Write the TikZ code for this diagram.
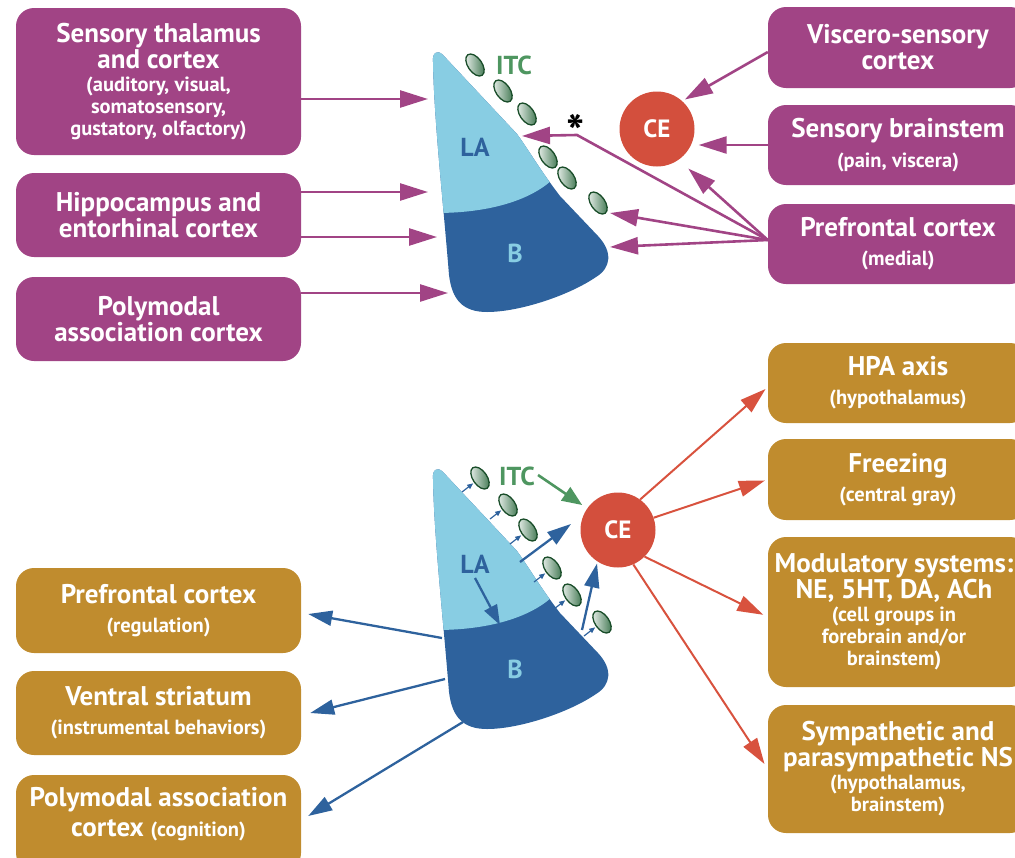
\documentclass[tikz,border=0pt]{standalone}
\usepackage{fontspec}
\setmainfont{PT Sans}
\usetikzlibrary{arrows.meta,shapes.geometric}
\definecolor{pur}{RGB}{161,68,133}
\definecolor{gold}{RGB}{192,140,46}
\definecolor{labl}{RGB}{136,205,227}
\definecolor{bdark}{RGB}{46,98,157}
\definecolor{cered}{RGB}{211,79,61}
\definecolor{rarr}{RGB}{216,82,62}
\definecolor{itcg}{RGB}{78,150,96}
\definecolor{elld}{RGB}{30,95,50}
\newcommand{\bigf}{\fontsize{27}{26}\selectfont\bfseries}
\newcommand{\smf}{\fontsize{20.5}{22}\selectfont\bfseries}
\newcommand{\bxt}[4][1pt]{\parbox{#2}{\centering\bigf #3\par\vspace{#1}\smf #4\par}}
\newcommand{\bxo}[2]{\parbox{#1}{\centering\bigf #2\par}}
\newcommand{\amyg}{(433,62) .. controls (432,53) and (437,49) .. (443,55) -- (517,134) .. controls (530,152) and (540,170) .. (560,196) -- (598,236) .. controls (613,252) and (611,268) .. (596,277) .. controls (570,295) and (520,312) .. (487,312) .. controls (463,312) and (452,300) .. (449,275) .. controls (443,200) and (434,120) .. cycle}
\newcommand{\laclip}{(380,0) -- (700,0) -- (700,180) -- (552,180) .. controls (530,200) and (490,213) .. (436,213) -- (380,213) -- cycle}
\tikzset{
  pbox/.style={rectangle, rounded corners=18pt, fill=pur, text=white, inner sep=0pt},
  gbox/.style={rectangle, rounded corners=18pt, fill=gold, text=white, inner sep=0pt},
  lbox/.style={minimum width=285pt},
  rbox/.style={minimum width=260pt},
  parrow/.style={draw=pur, line width=2.6pt, -{Triangle[length=28pt,width=17pt]}},
  barrow/.style={draw=bdark, line width=2.3pt, -{Triangle[length=24pt,width=15pt]}},
  sarrow/.style={draw=bdark, line width=1.2pt, -{Triangle[length=6pt,width=5pt]}},
  rarrow/.style={draw=rarr, line width=2pt, -{Triangle[length=26pt,width=16pt]}},
  garrow/.style={draw=itcg, line width=2.6pt, -{Triangle[length=20pt,width=16pt]}},
  itc/.style={ellipse, minimum width=14pt, minimum height=25pt, inner sep=0pt, rotate=35, draw=elld!80!black, line width=1.3pt, left color=elld!10!white, right color=elld!85!white},
  ce/.style={circle, fill=cered, minimum size=75pt, inner sep=0pt, text=white, font=\fontsize{25}{25}\selectfont\bfseries},
  lab/.style={font=\fontsize{26}{26}\selectfont\bfseries, inner sep=0pt}
}
\begin{document}
\begin{tikzpicture}[x=1pt,y=-1pt]
\useasboundingbox (0,0) rectangle (1015,857);
\clip (0,0) rectangle (1015,857);
% ---------- top boxes ----------
\node[pbox,lbox,minimum height=147pt] (s1) at (158.5,81.5) {\bxt{280pt}{Sensory thalamus\\and cortex}{(auditory, visual,\\somatosensory,\\gustatory, olfactory)}};
\node[pbox,lbox,minimum height=84pt] (s2) at (158.5,215) {\bxo{280pt}{Hippocampus and\\entorhinal cortex}};
\node[pbox,lbox,minimum height=84pt] (s3) at (158.5,319) {\bxo{280pt}{Polymodal\\association cortex}};
\node[pbox,rbox,minimum height=81pt] (r1) at (898,47.5) {\bxo{258pt}{Viscero-sensory\\cortex}};
\node[pbox,rbox,minimum height=80pt] (r2) at (898,145) {\bxt[8pt]{258pt}{Sensory brainstem}{(pain, viscera)}};
\node[pbox,rbox,minimum height=80pt] (r3) at (898,244) {\bxt[7pt]{258pt}{Prefrontal cortex}{(medial)}};
% ---------- bottom boxes ----------
\node[gbox,rbox,minimum height=80pt] (g1) at (898,383) {\bxt[7pt]{258pt}{HPA axis}{(hypothalamus)}};
\node[gbox,rbox,minimum height=81pt] (g2) at (898,479.5) {\bxt[7pt]{258pt}{Freezing}{(central gray)}};
\node[gbox,rbox,minimum height=150pt] (g3) at (898,612) {\hspace*{-8pt}\bxt{258pt}{Modulatory systems:\\NE, 5HT, DA, ACh}{(cell groups in\\forebrain and/or\\brainstem)}};
\node[gbox,rbox,minimum height=128pt] (g4) at (898,769) {\bxt{258pt}{Sympathetic and\\parasympathetic NS}{(hypothalamus,\\brainstem)}};
\node[gbox,lbox,minimum height=85pt] (l1) at (158.5,610.5) {\bxt[7pt]{280pt}{Prefrontal cortex}{(regulation)}};
\node[gbox,lbox,minimum height=84pt] (l2) at (158.5,713) {\bxt[7pt]{280pt}{Ventral striatum}{(instrumental behaviors)}};
\node[gbox,lbox,minimum height=96pt] (l3) at (158.5,823) {\parbox{280pt}{\centering\fontsize{27}{30}\selectfont\bfseries Polymodal association\\cortex {\smf (cognition)}\par\vspace*{18pt}}};
% ---------- amygdala top ----------
\fill[bdark] \amyg;
\begin{scope}
  \clip \laclip;
  \fill[labl] \amyg;
\end{scope}
% ---------- amygdala bottom ----------
\begin{scope}[shift={(0,417)}]
  \fill[bdark] \amyg;
  \begin{scope}
    \clip \laclip;
    \fill[labl] \amyg;
  \end{scope}
\end{scope}
% ---------- labels ----------
\node[lab, text=bdark] (laT) at (475,147) {LA};
\node[lab, text=labl] (bT) at (515,253) {B};
\node[lab, text=bdark] (laB) at (475,564) {LA};
\node[lab, text=labl] (bB) at (515,669) {B};
\node[lab, text=itcg] (itcT) at (514,65) {ITC};
\node[lab, text=itcg] (itcB) at (517,476) {ITC};
\node[font=\fontsize{48}{48}\selectfont\bfseries, inner sep=0pt] (ast) at (576,132) {*};
% ---------- CE ----------
\node[ce] (ceT) at (657,129) {CE};
\node[ce] (ceB) at (618,530) {CE};
% ---------- ITC ellipses ----------
\node[itc] (et1) at (475,65) {};
\node[itc] (et2) at (503,91) {};
\node[itc] (et3) at (527,114) {};
\node[itc] (et4) at (548,157) {};
\node[itc] (et5) at (567,178) {};
\node[itc] (et6) at (598,203) {};
\node[itc] (eb1) at (480,478) {};
\node[itc] (eb2) at (508,505) {};
\node[itc] (eb3) at (528,530) {};
\node[itc] (eb4) at (552,568) {};
\node[itc] (eb5) at (572,595) {};
\node[itc] (eb6) at (602,622) {};
% ---------- top connectors ----------
\coordinate (t1) at (428,99);
\coordinate (t2) at (428,192);
\coordinate (t3) at (437,237);
\coordinate (t4) at (448,293);
\draw[parrow] (s1.east |- t1) -- (t1);
\draw[parrow] (s2.east |- t2) -- (t2);
\draw[parrow] (s2.east |- t3) -- (t3);
\draw[parrow] (s3.east |- t4) -- (t4);
\draw[parrow, shorten >=3pt] ([yshift=-4.5pt]r1.west) -- (ceT.48);
\draw[parrow, shorten >=4pt] (r2.west) -- (ceT.east |- r2.west);
\coordinate (pf) at ([yshift=4pt]r3.west);
\coordinate (bend) at (577,135);
\coordinate (tla) at (522,136);
\coordinate (titc) at (610,213);
\coordinate (tb) at (610,247);
\draw[parrow] (pf) -- (bend) -- (tla);
\draw[parrow] (pf) -- (titc);
\draw[parrow] (pf) -- (tb);
\draw[parrow, shorten >=13pt] (pf) -- (ceT.-55);
% ---------- bottom connectors ----------
\foreach \i/\x/\y in {1/462/492, 2/490/519, 3/510/544, 4/534/582, 5/554/609, 6/584/636}{
  \coordinate (d\i) at (\x,\y);
  \draw[sarrow, shorten >=1pt] (d\i) -- (eb\i);
}
\coordinate (la1) at (475,578);
\coordinate (la2) at (500,625);
\draw[barrow, -{Triangle[length=20pt,width=14pt]}] (la1) -- (la2);
\coordinate (bc1) at (520,562);
\coordinate (bt1) at (571,524);
\draw[barrow] (bc1) -- (bt1);
\coordinate (bc2) at (582,630);
\draw[barrow, shorten >=2pt] (bc2) -- (ceB.237);
\coordinate (gi) at (538,475);
\draw[garrow, shorten >=6pt] (gi) -- (ceB.145);
\coordinate (bs1) at (442,638);
\coordinate (bs2) at (445,679);
\coordinate (bs3) at (463,722);
\draw[barrow] (bs1) -- ([xshift=7pt,yshift=-3.5pt]l1.east);
\draw[barrow] (bs2) -- ([xshift=9pt]l2.east);
\draw[barrow] (bs3) -- ([xshift=7pt,yshift=7pt]l3.east);
\draw[rarrow, shorten >=3pt] (ceB.54) -- ([yshift=-4pt]g1.west);
\draw[rarrow, shorten >=3pt] (ceB.19) -- (g2.west);
\draw[rarrow, shorten >=5pt] (ceB.-45) -- ([yshift=-5pt]g3.west);
\draw[rarrow, shorten >=6pt] (ceB.-66) -- (g4.west);
\end{tikzpicture}
\end{document}
